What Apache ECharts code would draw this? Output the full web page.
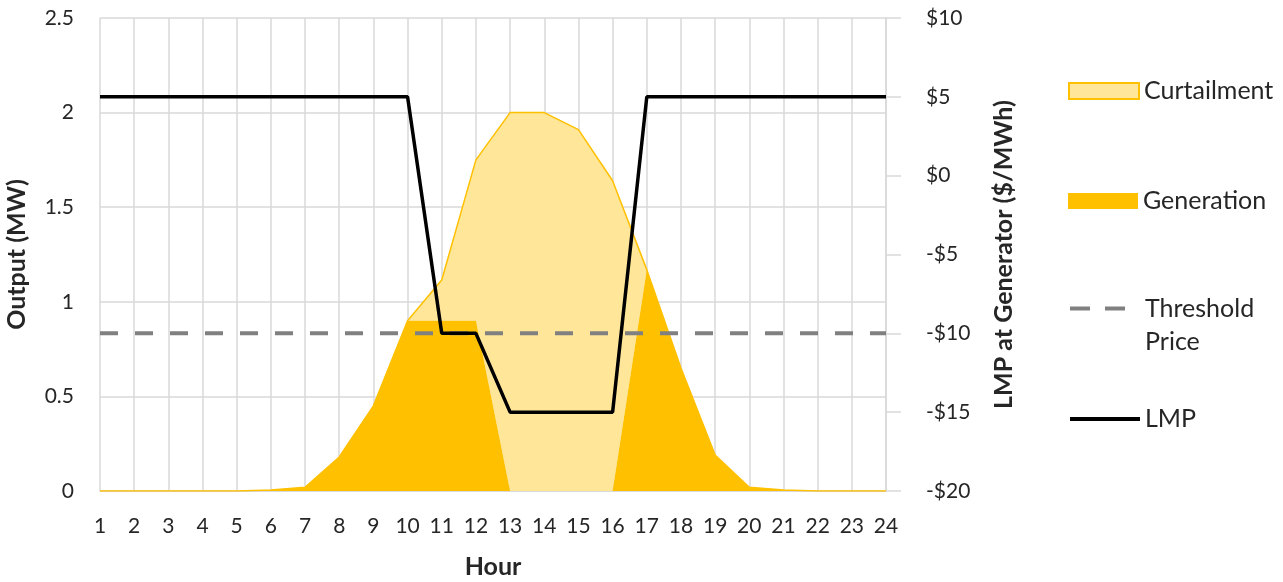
<!DOCTYPE html>
<html>
<head>
<meta charset="utf-8">
<script src="https://cdn.jsdelivr.net/npm/echarts@6/dist/echarts.min.js"></script>
<style>
  html, body { margin: 0; padding: 0; background: #fff; }
  #chart { width: 1283px; height: 582px; }
</style>
</head>
<body>
<div id="chart"></div>
<script>
// hours of the day
var hours = ['1','2','3','4','5','6','7','8','9','10','11','12','13','14','15','16','17','18','19','20','21','22','23','24'];
// MW actually generated
var generation = [0, 0, 0, 0, 0, 0.005, 0.02, 0.18, 0.45, 0.9, 0.9, 0.9, 0, 0, 0, 0, 1.17, 0.65, 0.19, 0.02, 0.005, 0, 0, 0];
// MW curtailed (stacked on top of generation)
var curtailment = [0, 0, 0, 0, 0, 0, 0, 0, 0, 0, 0.215, 0.85, 2.0, 2.0, 1.91, 1.64, 0, 0, 0, 0, 0, 0, 0, 0];
// LMP at generator, $/MWh
var lmp = [5, 5, 5, 5, 5, 5, 5, 5, 5, 5, -10, -10, -15, -15, -15, -15, 5, 5, 5, 5, 5, 5, 5, 5];
// threshold price, $/MWh
var threshold = [-10, -10, -10, -10, -10, -10, -10, -10, -10, -10, -10, -10, -10, -10, -10, -10, -10, -10, -10, -10, -10, -10, -10, -10];

var FONT = 'Lato';
var TXT = '#262626';
var GRID = '#D9D9D9';

var chart = echarts.init(document.getElementById('chart'));

// one legend block per item so each can sit at its own height
function legendItem(name, top, extra, more) {
  var item = { name: name };
  if (extra) Object.assign(item, extra);
  return Object.assign({
    data: [item],
    left: 1063,
    top: top,
    itemWidth: 70,
    itemHeight: 16,
    itemGap: 8,
    textStyle: { fontFamily: FONT, fontSize: 25, color: TXT, lineHeight: 32 }
  }, more || {});
}

var option = {
  animation: false,
  backgroundColor: '#fff',
  textStyle: { fontFamily: FONT },
  grid: { left: 100, right: 397, top: 18, bottom: 91, outerBoundsMode: 'none' },
  legend: [
    legendItem('Curtailment', 70, { icon: 'rect', itemStyle: { color: '#FFE699', borderColor: '#FFC000', borderWidth: 2 } }),
    legendItem('Generation', 180, { icon: 'rect', itemStyle: { color: '#FFC000', borderWidth: 0 } }),
    // blank first line keeps the dash level with "Threshold"
    legendItem('Threshold Price', 254, { itemStyle: { opacity: 0 }, lineStyle: { width: 4, color: '#808080', type: [20, 15] } }, {
      textStyle: { fontFamily: FONT, fontSize: 25, color: TXT, lineHeight: 33 },
      formatter: function () { return '\u00a0\nThreshold\nPrice'; }
    }),
    legendItem('LMP', 398, { itemStyle: { opacity: 0 }, lineStyle: { width: 4, color: '#000' } })
  ],
  xAxis: {
    type: 'category',
    data: hours,
    boundaryGap: false,
    name: 'Hour',
    nameLocation: 'middle',
    nameGap: 63,
    nameTextStyle: { fontFamily: FONT, fontSize: 25, fontWeight: 'bold', color: TXT },
    axisLine: { lineStyle: { color: GRID } },
    axisTick: { show: false },
    axisLabel: { fontFamily: FONT, fontSize: 21, color: TXT, margin: 25 },
    splitLine: { show: true, lineStyle: { color: GRID, width: 1.5 } }
  },
  yAxis: [{
    type: 'value',
    min: 0,
    max: 2.5,
    interval: 0.5,
    name: 'Output (MW)',
    nameLocation: 'middle',
    nameRotate: 90,
    nameGap: 71,
    nameTextStyle: { fontFamily: FONT, fontSize: 25, fontWeight: 'bold', color: TXT },
    axisLine: { show: false },
    axisTick: { show: false },
    axisLabel: { fontFamily: FONT, fontSize: 21, color: TXT, margin: 26 },
    splitLine: { show: true, lineStyle: { color: GRID, width: 1.5 } }
  }, {
    type: 'value',
    position: 'right',
    min: -20,
    max: 10,
    interval: 5,
    name: 'LMP at Generator ($/MWh)',
    nameLocation: 'middle',
    nameRotate: 90,
    nameGap: 105,
    nameTextStyle: { fontFamily: FONT, fontSize: 25, fontWeight: 'bold', color: TXT },
    axisLine: { show: true, lineStyle: { color: GRID, width: 1.5 } },
    axisTick: { show: true, length: 15, lineStyle: { color: GRID, width: 1.5 } },
    axisLabel: {
      fontFamily: FONT, fontSize: 21, color: TXT, margin: 40,
      formatter: function (v) { return (v < 0 ? '-$' : '$') + Math.abs(v); }
    },
    splitLine: { show: false }
  }],
  series: [{
    name: 'Generation',
    type: 'line',
    stack: 'out',
    data: generation,
    symbol: 'none',
    lineStyle: { width: 0, color: '#FFC000' },
    itemStyle: { color: '#FFC000' },
    areaStyle: { color: '#FFC000', opacity: 1 },
    z: 2
  }, {
    name: 'Curtailment',
    type: 'line',
    stack: 'out',
    data: curtailment,
    symbol: 'none',
    lineStyle: { width: 1.5, color: '#FFC000' },
    itemStyle: { color: '#FFE699' },
    areaStyle: { color: '#FFE699', opacity: 1 },
    z: 1
  }, {
    name: 'Threshold Price',
    type: 'line',
    yAxisIndex: 1,
    data: threshold,
    symbol: 'none',
    lineStyle: { width: 4, color: '#808080', type: [18, 17] },
    itemStyle: { color: '#808080' },
    z: 3
  }, {
    name: 'LMP',
    type: 'line',
    yAxisIndex: 1,
    data: lmp,
    symbol: 'none',
    lineStyle: { width: 3.5, color: '#000' },
    itemStyle: { color: '#000' },
    z: 4
  }]
};

chart.setOption(option);
</script>
</body>
</html>
